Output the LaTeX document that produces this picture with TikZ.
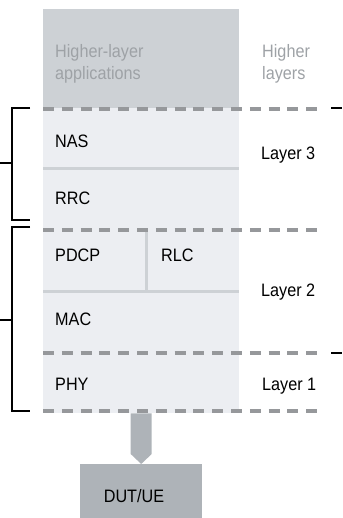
\documentclass[tikz,border=0pt]{standalone}
\usepackage{fontspec}
\setmainfont[FakeStretch=0.9]{Liberation Sans}
\definecolor{topgrey}{HTML}{CDD1D5}
\definecolor{lightgrey}{HTML}{ECEEF2}
\definecolor{sepgrey}{HTML}{CDD1D5}
\definecolor{dashgrey}{HTML}{96989B}
\definecolor{boxgrey}{HTML}{AEB3B8}
\definecolor{txtgrey}{HTML}{9EA2A6}
\begin{document}
\begin{tikzpicture}[x=1pt,y=-1pt,
  font=\fontsize{18}{21}\selectfont,
  lbl/.style={anchor=base west, inner sep=0pt, text=black},
  glbl/.style={anchor=base west, inner sep=0pt, text=txtgrey},
  dline/.style={draw=dashgrey, line width=4pt, dash pattern=on 11pt off 7.8pt},
  sepline/.style={draw=sepgrey, line width=3pt},
  bracket/.style={draw=black, line width=2pt},
  block/.style={anchor=north west, inner sep=0pt, draw=none}]
\useasboundingbox (0,0) rectangle (342,518);
% blocks
\node[block, fill=topgrey, minimum width=196pt, minimum height=99pt] (hl) at (43,9) {};
\node[block, fill=lightgrey, minimum width=196pt, minimum height=305pt] (stack) at (43,108) {};
\node[anchor=north west, inner sep=0pt, fill=boxgrey, minimum width=122pt, minimum height=54pt] (dut) at (80,464) {};
% separators
\draw[sepline] (43,169) -- (239,169);
\draw[sepline] (43,291) -- (239,291);
\draw[sepline] (146,230) -- (146,291);
% dashed lines
\draw[dline] (43,108.7) -- (318,108.7);
\draw[dline] (43,230) -- (318,230);
\draw[dline] (43,353) -- (318,353);
\draw[dline] (43,411) -- (318,411);
% brackets
\draw[bracket] (30,108) -- (12,108) -- (12,220) -- (30,220);
\draw[bracket] (0,163) -- (12,163);
\draw[bracket] (30,227) -- (12,227) -- (12,411) -- (30,411);
\draw[bracket] (0,320) -- (12,320);
\draw[bracket] (331,108) -- (342,108);
\draw[bracket] (331,353) -- (342,353);
% arrow
\fill[boxgrey] ([xshift=-10.5pt]stack.south) -- ([xshift=10.5pt]stack.south)
  -- ([xshift=10.5pt,yshift=10pt]dut.north) -- (dut.north)
  -- ([xshift=-10.5pt,yshift=10pt]dut.north) -- cycle;
% texts
\node[glbl] (t1) at (55,58) {Higher-layer};
\node[glbl] (t2) at (55,80) {applications};
\node[glbl] (t3) at (262,58) {Higher};
\node[glbl] (t4) at (262,80) {layers};
\node[lbl] (nas) at (55,148) {NAS};
\node[lbl] (l3) at (261,160) {Layer 3};
\node[lbl] (rrc) at (55,205) {RRC};
\node[lbl] (pdcp) at (55,261.5) {PDCP};
\node[lbl] (rlc) at (161,261.5) {RLC};
\node[lbl] (l2) at (261,296.5) {Layer 2};
\node[lbl] (mac) at (55,325) {MAC};
\node[lbl] (phy) at (55,390) {PHY};
\node[lbl] (l1) at (262,390) {Layer 1};
\node[anchor=base, inner sep=0pt] (dutt) at (134,502) {DUT/UE};
\end{tikzpicture}
\end{document}
